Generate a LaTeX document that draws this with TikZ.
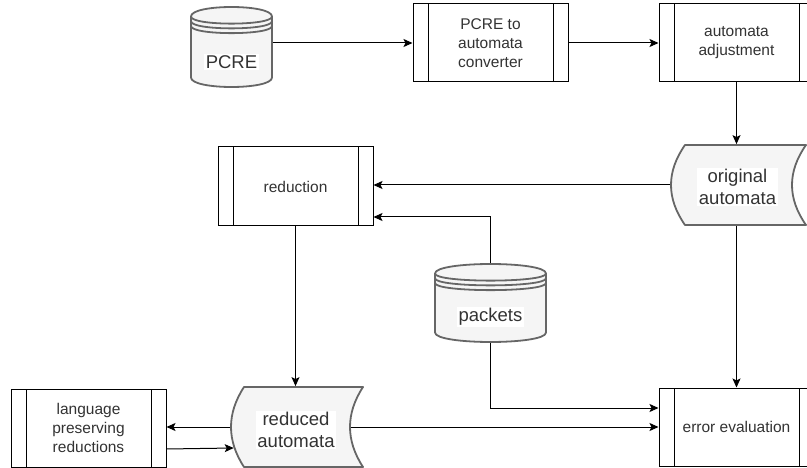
\documentclass[tikz,border=0pt]{standalone}
\usepackage{fontspec}
\setmainfont{Liberation Sans}
\usetikzlibrary{arrows.meta,calc}

\definecolor{txt}{HTML}{333333}
\definecolor{storeedge}{HTML}{666666}
\definecolor{storefill}{HTML}{F5F5F5}

% database cylinder: x0 y0 width height cap-depth
\newcommand\drawdbcyl[5]{%
  \filldraw[storeshape] (#1,{#2+#5}) .. controls (#1,{#2-#5/3}) and ({#1+#3},{#2-#5/3}) .. ({#1+#3},{#2+#5})
    -- ({#1+#3},{#2+#4-#5}) .. controls ({#1+#3},{#2+#4+#5/3}) and (#1,{#2+#4+#5/3}) .. (#1,{#2+#4-#5}) -- cycle;
  \draw[storeshape, fill=none] (#1,{#2+#5}) .. controls (#1,{#2+2*#5}) and ({#1+#3},{#2+2*#5}) .. ({#1+#3},{#2+#5})
    (#1,{#2+1.5*#5}) .. controls (#1,{#2+2.5*#5}) and ({#1+#3},{#2+2.5*#5}) .. ({#1+#3},{#2+1.5*#5})
    (#1,{#2+2*#5}) .. controls (#1,{#2+3*#5}) and ({#1+#3},{#2+3*#5}) .. ({#1+#3},{#2+2*#5});
}
% stored-data shape: x0 y0 width height curve-depth
\newcommand\drawdatastore[5]{%
  \filldraw[storeshape] ({#1+#5},#2) -- ({#1+#3},#2)
    .. controls ({#1+#3-4*#5/3},{#2+#4/3}) and ({#1+#3-4*#5/3},{#2+2*#4/3}) .. ({#1+#3},{#2+#4})
    -- ({#1+#5},{#2+#4})
    .. controls ({#1-#5/3},{#2+2*#4/3}) and ({#1-#5/3},{#2+#4/3}) .. ({#1+#5},#2) -- cycle;
}

\begin{document}
\begin{tikzpicture}[x=1pt, y=-1pt,
  storeshape/.style={draw=storeedge, fill=storefill, line width=1.8pt, line join=round},
  anchorbox/.style={shape=rectangle, draw=none, inner sep=0pt, outer sep=0.9pt},
  procbox/.style={draw=black, line width=1pt, fill=white, minimum width=155pt,
    minimum height=78pt, inner sep=0pt, text=txt, align=center,
    font=\fontsize{15.5}{19}\selectfont,
    path picture={\draw[line width=1pt]
      ([xshift=15pt]path picture bounding box.north west) -- ([xshift=15pt]path picture bounding box.south west)
      ([xshift=-15pt]path picture bounding box.north east) -- ([xshift=-15pt]path picture bounding box.south east);}},
  biglabel/.style={fill=white, inner sep=1.5pt, text=txt, align=center,
    font=\fontsize{18.5}{22}\selectfont},
  arr/.style={draw=black, line width=1pt, -{Stealth[length=9pt, width=8pt, inset=2pt]}}]

\useasboundingbox (0,0) rectangle (807,468);

% storage shapes
\drawdbcyl{191}{7}{81}{80}{9.5}
\drawdbcyl{435}{264}{111}{78}{9.5}
\drawdatastore{671}{145}{135}{80}{14}
\drawdatastore{231}{387}{132}{80}{13}

\node[anchorbox, minimum width=81pt, minimum height=80pt] (pcre) at (231.5,47) {};
\node[anchorbox, minimum width=111pt, minimum height=78pt] (pk) at (490.5,303) {};
\node[anchorbox, minimum width=135pt, minimum height=80pt] (orig) at (738.5,185) {};
\node[anchorbox, minimum width=132pt, minimum height=80pt] (rdc) at (297,427) {};

\node[biglabel] (pcrelbl) at (231.5,62) {PCRE};
\node[biglabel] (pklbl) at (490.5,317) {packets};
\node[biglabel] (origlbl) at (737.5,187) {original\\automata};
\node[biglabel] (rdclbl) at (296,430) {reduced\\automata};

% process steps
\node[procbox] (conv) at (490.5,43) {PCRE to\\automata\\converter};
\node[procbox] (adj) at (736.5,43) {automata\\adjustment};
\node[procbox, minimum height=79pt] (redn) at (295.5,186.5) {reduction};
\node[procbox] (lang) at (88.5,428) {language\\preserving\\reductions};
\node[procbox] (err) at (736.5,427) {error evaluation};

% flow
\draw[arr] (pcre.east |- conv.west) -- (conv.west);
\draw[arr] (conv.east) -- (adj.west);
\draw[arr] (adj.south) -- (adj.south |- orig.north);
\draw[arr] (orig.west) -- (orig.west -| redn.east);
\draw[arr] (pk.north) |- ([yshift=-30.5pt]redn.east);
\draw[arr] (redn.south) -- (redn.south |- rdc.north);
\draw[arr] (orig.south -| err.north) -- (err.north);
\draw[arr] (pk.south) |- ([yshift=19pt]err.west);
\draw[arr] ([xshift=-13pt]rdc.east) -- (rdc.east -| err.west);
\draw[arr] (rdc.west) -- (rdc.west -| lang.east);
\draw[arr] ([yshift=-21pt]lang.east) -- ([xshift=3.6pt, yshift=-21pt]rdc.west);
\end{tikzpicture}
\end{document}
